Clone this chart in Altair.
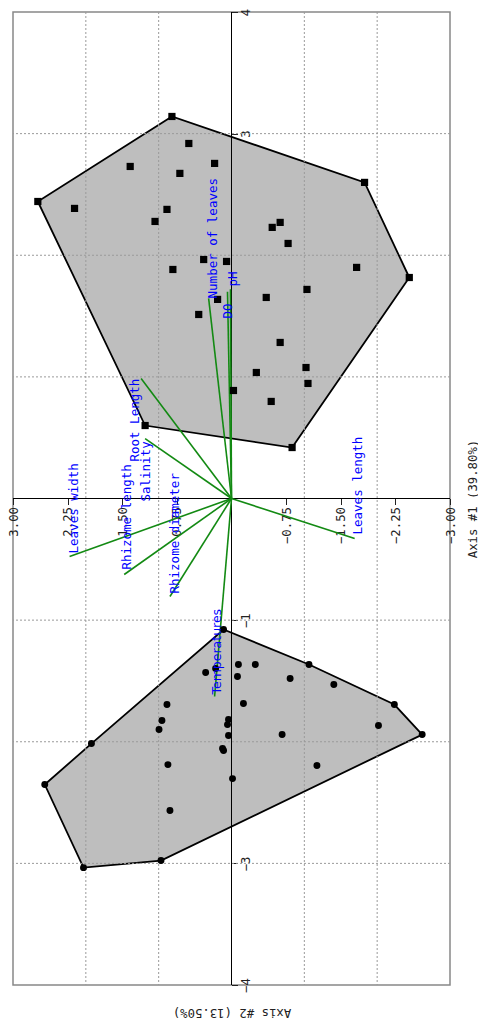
import altair as alt
import pandas as pd

# Site scores: group with square symbols (positive Axis #2)
sq_ax1 = [0.818, 0.586, 0.232, 1.391, 0.709, 2.659, 2.155, 0.886, 1.050, -1.827,
          -0.668, -0.559, -0.777, 0.382, 0.068, -1.718, 0.805, -2.441, -1.036, -0.477,
          0.191, 0.450, -0.668, -1.023, -0.341, -1.050, -0.027, -0.545, 1.186, -0.832]
sq_ax2 = [3.141, 2.919, 2.755, 2.730, 2.673, 2.442, 2.385, 2.377, 2.278, 2.599,
          2.270, 2.229, 2.097, 1.965, 1.949, 1.900, 1.883, 1.817, 1.719, 1.653,
          1.637, 1.513, 1.283, 1.077, 1.036, 0.946, 0.888, 0.798, 0.600, 0.419]

# Site scores: group with circle symbols (negative Axis #2)
ci_ax1 = [0.109, 0.218, 0.355, -0.095, -0.327, -0.082, -0.805, -1.064, -1.405, -0.164,
          0.886, 0.955, 0.995, 0.041, 0.055, 0.041, -0.695, -2.018, -2.236, -2.618,
          0.123, 0.109, 0.873, -0.014, -1.173, 0.845, 1.923, 2.564, 2.032, 0.968]
ci_ax2 = [-1.077, -1.398, -1.431, -1.365, -1.365, -1.464, -1.480, -1.365, -1.530, -1.686,
          -1.694, -1.826, -1.900, -1.817, -1.859, -1.949, -1.941, -1.867, -1.694, -1.941,
          -2.056, -2.072, -2.188, -2.303, -2.196, -2.566, -2.015, -2.352, -3.035, -2.977]

# Environmental variable vectors
var_names = ["Root Length", "Salinity", "Rhizome length", "Leaves width", "Rhizome diameter",
             "Temperatures", "Leaves length", "Number of leaves", "pH", "DO"]
var_ax1 = [1.241, 1.186, 1.473, 2.223, 0.845, 0.232, -1.691, 0.314, 0.014, 0.055]
var_ax2 = [0.987, 0.493, -0.625, -0.477, -0.806, -1.628, -0.329, 1.645, 1.720, 1.700]
# Label anchor (start of text) for each vector
lab_ax1 = [1.323, 1.173, 1.432, 2.168, 0.777, 0.205, -1.732, 0.259, -0.027, 0.048]
lab_ax2 = [0.304, -0.025, -0.584, -0.452, -0.781, -1.612, -0.296, 1.645, 1.743, 1.480]
sans_vars = ["Temperatures"]

x_ticks = [-3, -2.25, -1.5, -0.75, 0.75, 1.5, 2.25, 3]
y_ticks = [-4, -3, -2, -1, 1, 2, 3, 4]
x_grid = [-2, -1, 1, 2]
y_grid = [-3, -2, -1, 1, 2, 3]
zero = [0]

W, H = 437, 973
MONO = "DejaVu Sans Mono"


def convex_hull(xs, ys):
    pts = sorted(set(zip(xs, ys)))

    def cross(o, a, b):
        return (a[0] - o[0]) * (b[1] - o[1]) - (a[1] - o[1]) * (b[0] - o[0])

    lower, upper = [], []
    for p in pts:
        while len(lower) >= 2 and cross(lower[-2], lower[-1], p) <= 0:
            lower.pop()
        lower.append(p)
    for p in reversed(pts):
        while len(upper) >= 2 and cross(upper[-2], upper[-1], p) <= 0:
            upper.pop()
        upper.append(p)
    h = lower[:-1] + upper[:-1]
    return h + [h[0]]


hull_rows = []
for grp, xs, ys in (("A", sq_ax1, sq_ax2), ("B", ci_ax1, ci_ax2)):
    for i, (a, b) in enumerate(convex_hull(xs, ys)):
        hull_rows.append({"grp": grp, "idx": i, "ax1": a, "ax2": b})
hull_df = pd.DataFrame(hull_rows)

sq_df = pd.DataFrame({"ax1": sq_ax1, "ax2": sq_ax2})
ci_df = pd.DataFrame({"ax1": ci_ax1, "ax2": ci_ax2})
vec_df = pd.DataFrame({"name": var_names, "ax1": [0.0] * len(var_names), "ax2": [0.0] * len(var_names),
                       "e1": var_ax1, "e2": var_ax2})
lab_df = pd.DataFrame({"name": var_names, "ax1": lab_ax1, "ax2": lab_ax2})

xscale = alt.Scale(domain=[-3, 3], reverse=True, nice=False, zero=False)
yscale = alt.Scale(domain=[-4, 4], nice=False, zero=False)

xaxis = alt.Axis(values=x_ticks, format=".2f", labelAngle=270, labelAlign="right",
                 labelBaseline="middle", labelFont=MONO, labelFontSize=12.3, labelColor="#222",
                 tickColor="#222", tickSize=6, labelPadding=2, grid=False, domain=False,
                 labelFlush=False, labelOverlap=False, offset=-H / 2,
                 title="Axis #1 (39.80%)", titleAngle=270, titleX=459, titleY=0,
                 titleAlign="center", titleBaseline="middle", titleFont=MONO,
                 titleFontSize=12.3, titleFontWeight="normal", titleColor="#222")
yaxis = alt.Axis(orient="right", values=y_ticks, format="d", labelAngle=270, labelAlign="center",
                 labelBaseline="top", labelFont=MONO, labelFontSize=12.3, labelColor="#222",
                 tickColor="#222", tickSize=6, labelPadding=2, grid=False, domain=False,
                 labelFlush=False, labelOverlap=False, offset=-W / 2,
                 title="Axis #2 (13.50%)", titleAngle=180, titleX=0, titleY=1000,
                 titleAlign="center", titleBaseline="middle", titleFont=MONO,
                 titleFontSize=12.3, titleFontWeight="normal", titleColor="#222")


def X(field="ax1"):
    return alt.X(f"{field}:Q", scale=xscale, axis=xaxis)


def Y(field="ax2"):
    return alt.Y(f"{field}:Q", scale=yscale, axis=yaxis)


hulls = alt.Chart(hull_df).mark_line(fill="#bebebe", stroke="black", strokeWidth=1.8,
                                     strokeJoin="miter").encode(
    x=X(), y=Y(), order="idx:Q", detail="grp:N")

vgrid = alt.Chart(pd.DataFrame({"ax1": x_grid})).mark_rule(
    color="#9a9a9a", strokeDash=[2, 2], strokeWidth=1).encode(x=X())
hgrid = alt.Chart(pd.DataFrame({"ax2": y_grid})).mark_rule(
    color="#9a9a9a", strokeDash=[2, 2], strokeWidth=1).encode(y=Y())

vzero = alt.Chart(pd.DataFrame({"ax1": zero})).mark_rule(color="black", strokeWidth=1).encode(x=X())
hzero = alt.Chart(pd.DataFrame({"ax2": zero})).mark_rule(color="black", strokeWidth=1).encode(y=Y())

vectors = alt.Chart(vec_df).mark_rule(color="#138a13", strokeWidth=1.6).encode(
    x=X(), y=Y(), x2="e1:Q", y2="e2:Q")

squares = alt.Chart(sq_df).mark_point(shape="square", filled=True, size=52, color="black",
                                      opacity=1).encode(x=X(), y=Y())
circles = alt.Chart(ci_df).mark_point(shape="circle", filled=True, size=48, color="black",
                                      opacity=1).encode(x=X(), y=Y())

labels_mono = alt.Chart(lab_df).transform_filter(
    ~alt.FieldOneOfPredicate(field="name", oneOf=sans_vars)
).mark_text(angle=270, align="left", baseline="middle", font=MONO, fontSize=12.5,
            color="#0000ff").encode(x=X(), y=Y(), text="name:N")
labels_sans = alt.Chart(lab_df).transform_filter(
    alt.FieldOneOfPredicate(field="name", oneOf=sans_vars)
).mark_text(angle=270, align="left", baseline="middle", font="DejaVu Sans", fontSize=12.5,
            color="#0000ff").encode(x=X(), y=Y(), text="name:N")

chart = alt.layer(
    hulls, vgrid, hgrid, vzero, hzero, vectors, squares, circles, labels_mono, labels_sans
).properties(
    width=W, height=H,
    autosize=alt.AutoSizeParams(type="none"),
    padding={"left": 5, "top": 4, "right": 28, "bottom": 34},
).configure_view(stroke="#888888", strokeWidth=1.5)

chart.save("out.html", embed_options={"renderer": "svg", "actions": False})
